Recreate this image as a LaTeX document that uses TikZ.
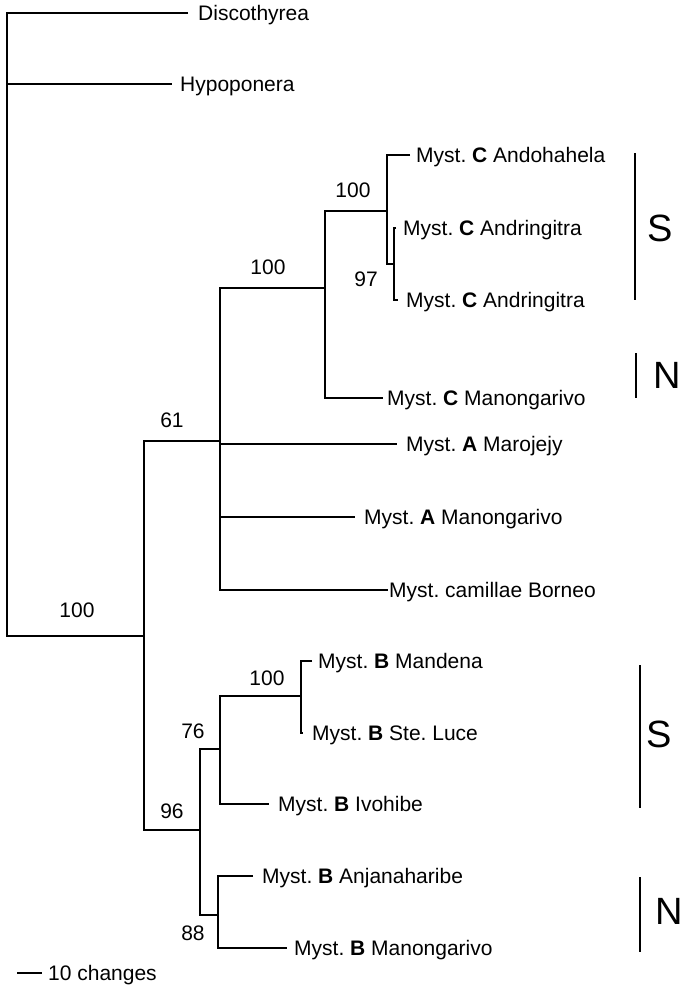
\documentclass[tikz,border=0pt]{standalone}
\usepackage{fontspec}
\setmainfont{Liberation Sans}
\frenchspacing
\begin{document}
\begin{tikzpicture}[x=1pt,y=-1pt,
  br/.style={line width=2.2pt},
  barline/.style={line width=2.8pt},
  lab/.style={anchor=base west, inner sep=0pt, font=\fontsize{21}{25}\selectfont\frenchspacing},
  sup/.style={anchor=center, inner sep=0pt, font=\fontsize{21}{25}\selectfont},
  big/.style={anchor=center, inner sep=0pt, font=\fontsize{38}{44}\selectfont}]
\useasboundingbox[fill=white] (0,0) rectangle (688,986);
% internal nodes
\coordinate (root) at (7,84);
\coordinate (nA) at (144,636);
\coordinate (n61) at (220,441);
\coordinate (nC) at (325,288);
\coordinate (nC1) at (387,211);
\coordinate (nC2) at (394,264);
\coordinate (nB) at (200,830);
\coordinate (nB76) at (220,749);
\coordinate (nB100) at (301,696);
\coordinate (nB88) at (218,915);
% tips
\coordinate (tDisc) at (188,13);
\coordinate (tHypo) at (172,84);
\coordinate (tCAndo) at (410,155);
\coordinate (tCAnd1) at (396,228);
\coordinate (tCAnd2) at (398,300);
\coordinate (tCMan) at (383,398);
\coordinate (tAMar) at (397,444);
\coordinate (tAMan) at (355,517);
\coordinate (tCam) at (388,590);
\coordinate (tBMand) at (312,661);
\coordinate (tBSte) at (303,733);
\coordinate (tBIvo) at (269,804);
\coordinate (tBAnj) at (253,876);
\coordinate (tBMan) at (287,948);
% branches
\draw[br] (tDisc) -| (root) |- (nA);
\draw[br] (root) -- (tHypo);
\draw[br] (n61) -| (nA) |- (nB);
\draw[br] (nC) -| (n61) |- (tCam);
\draw[br] (n61 |- tAMar) -- (tAMar);
\draw[br] (n61 |- tAMan) -- (tAMan);
\draw[br] (nC1) -| (nC) |- (tCMan);
\draw[br] (tCAndo) -| (nC1) |- (nC2);
\draw[br] (tCAnd1) -| (nC2) |- (tCAnd2);
\draw[br] (nB76) -| (nB) |- (nB88);
\draw[br] (nB100) -| (nB76) |- (tBIvo);
\draw[br] (tBMand) -| (nB100) |- (tBSte);
\draw[br] (tBAnj) -| (nB88) |- (tBMan);
% tip labels
\node[lab] (lDisc) at (198,20.5) {Discothyrea};
\node[lab] (lHypo) at (180,91.5) {Hypoponera};
\node[lab] (lCAndo) at (416,162.5) {Myst. \textbf{C} Andohahela};
\node[lab] (lCAnd1) at (403,235.5) {Myst. \textbf{C} Andringitra};
\node[lab] (lCAnd2) at (406,307.5) {Myst. \textbf{C} Andringitra};
\node[lab] (lCMan) at (387,405.5) {Myst. \textbf{C} Manongarivo};
\node[lab] (lAMar) at (406,451) {Myst. \textbf{A} Marojejy};
\node[lab] (lAMan) at (364,524.5) {Myst. \textbf{A} Manongarivo};
\node[lab] (lCam) at (389,597.5) {Myst. camillae Borneo};
\node[lab] (lBMand) at (318,668.5) {Myst. \textbf{B} Mandena};
\node[lab] (lBSte) at (312,740.5) {Myst. \textbf{B} Ste. Luce};
\node[lab] (lBIvo) at (278,811.5) {Myst. \textbf{B} Ivohibe};
\node[lab] (lBAnj) at (262,883.5) {Myst. \textbf{B} Anjanaharibe};
\node[lab] (lBMan) at (294,955.5) {Myst. \textbf{B} Manongarivo};
% support values
\node[sup] (s100a) at (77,610) {100};
\node[sup] (s61) at (172,420) {61};
\node[sup] (s100c) at (268,267) {100};
\node[sup] (s100c1) at (353,190) {100};
\node[sup] (s97) at (366,279) {97};
\node[sup] (s96) at (172,811) {96};
\node[sup] (s76) at (193,731) {76};
\node[sup] (s100b) at (267,678) {100};
\node[sup] (s88) at (193,933) {88};
% region bars
\coordinate (bS1a) at (635,153); \coordinate (bS1b) at (635,300);
\coordinate (bN1a) at (636,353); \coordinate (bN1b) at (636,398);
\coordinate (bS2a) at (640,665); \coordinate (bS2b) at (640,808);
\coordinate (bN2a) at (640,877); \coordinate (bN2b) at (640,952);
\draw[barline] (bS1a) -- (bS1b);
\draw[barline] (bN1a) -- (bN1b);
\draw[barline] (bS2a) -- (bS2b);
\draw[barline] (bN2a) -- (bN2b);
\node[big] (rS1) at (660,228) {S};
\node[big] (rN1) at (667,375) {N};
\node[big] (rS2) at (659,734) {S};
\node[big] (rN2) at (669,911) {N};
% scale
\coordinate (scA) at (17,973);
\coordinate (scB) at (42,973);
\draw[br] (scA) -- (scB);
\node[lab] (scT) at (48,980.5) {10 changes};
\end{tikzpicture}
\end{document}
